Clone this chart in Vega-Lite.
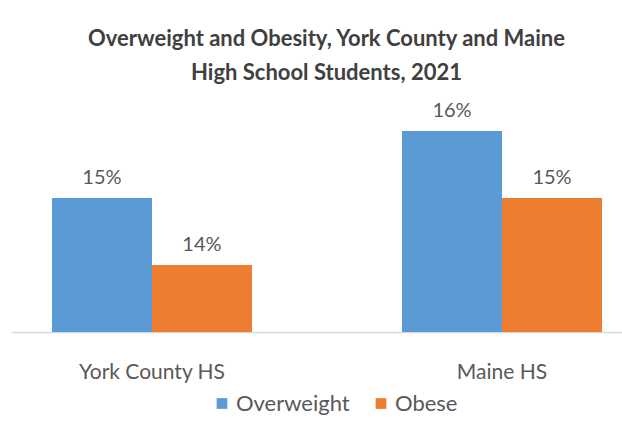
{
  "$schema": "https://vega.github.io/schema/vega-lite/v6.json",
  "width": 611,
  "height": 234.5,
  "autosize": {"type": "none"},
  "padding": {"left": 11, "top": 97.5, "right": 0, "bottom": 100},
  "background": "white",
  "title": {
    "text": ["Overweight and Obesity, York County and Maine", "High School Students, 2021"],
    "font": "Lato",
    "fontSize": 22,
    "fontWeight": "bold",
    "color": "#404040",
    "anchor": "middle",
    "offset": 13,
    "lineHeight": 34,
    "dx": 10
  },
  "data": {
    "values": [
      {"group": "York County HS", "measure": "Overweight", "pct": 0.15},
      {"group": "York County HS", "measure": "Obese", "pct": 0.14},
      {"group": "Maine HS", "measure": "Overweight", "pct": 0.16},
      {"group": "Maine HS", "measure": "Obese", "pct": 0.15}
    ]
  },
  "encoding": {
    "x": {
      "field": "group",
      "type": "nominal",
      "sort": ["York County HS", "Maine HS"],
      "scale": {"paddingInner": 0.4286, "paddingOuter": 0.0871, "align": 0.672},
      "axis": {
        "title": null,
        "labelAngle": 0,
        "ticks": false,
        "domainColor": "#d9d9d9",
        "domainWidth": 1.5,
        "labelFont": "Lato",
        "labelFontSize": 21,
        "labelColor": "#595959",
        "labelPadding": 29
      }
    },
    "xOffset": {
      "field": "measure",
      "sort": ["Overweight", "Obese"],
      "scale": {"paddingInner": 0, "paddingOuter": 0}
    },
    "y": {
      "field": "pct",
      "type": "quantitative",
      "scale": {"domain": [0.13, 0.165], "zero": false},
      "axis": null
    }
  },
  "layer": [
    {
      "mark": {"type": "bar"},
      "encoding": {
        "y2": {"datum": 0.13},
        "color": {
          "field": "measure",
          "type": "nominal",
          "sort": ["Overweight", "Obese"],
          "scale": {"domain": ["Overweight", "Obese"], "range": ["#5B9BD5", "#ED7D31"]},
          "legend": {
            "title": null,
            "orient": "none",
            "legendX": 200,
            "legendY": 295,
            "direction": "horizontal",
            "symbolType": "square",
            "symbolSize": 115,
            "symbolStrokeWidth": 0,
            "labelFont": "Lato",
            "labelFontSize": 22,
            "labelColor": "#595959",
            "columnPadding": 20,
            "labelOffset": 3
          }
        }
      }
    },
    {
      "mark": {"type": "text", "baseline": "alphabetic", "dy": -14, "font": "Lato", "fontSize": 20, "color": "#595959"},
      "encoding": {"text": {"field": "pct", "type": "quantitative", "format": ".0%"}}
    }
  ],
  "config": {"view": {"stroke": null}}
}
